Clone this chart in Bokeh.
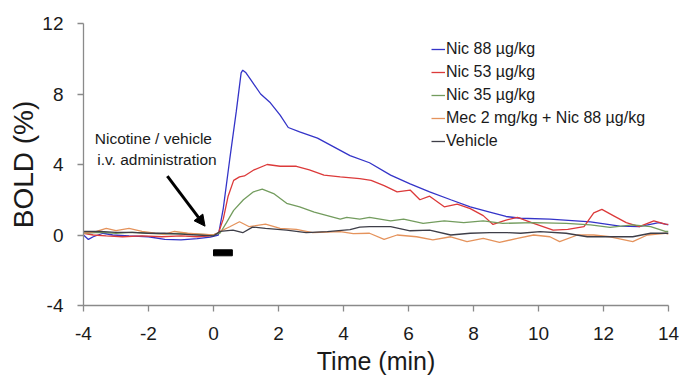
from bokeh.plotting import figure
from bokeh.models import Range1d, FixedTicker, Legend, LegendItem, Label, Arrow, NormalHead
from bokeh.embed import file_html
from bokeh.resources import INLINE

# ---- data ----
t_nic88 = [-4.0, -3.85, -3.7, -3.4, -3.1, -2.6, -2.0, -1.5, -1.0, -0.5, -0.1, 0.15, 0.3, 0.5, 0.7, 0.85, 0.9,
           1.0, 1.15, 1.45, 1.75, 2.05, 2.3, 2.65, 3.2, 3.7, 4.2, 4.8, 5.45, 6.05, 6.65, 7.3, 7.9, 8.5, 9.0,
           9.45, 10.35, 11.6, 12.5, 13.1, 13.7, 14.0]
v_nic88 = [0.0, -0.25, -0.1, 0.1, 0.0, -0.05, -0.1, -0.25, -0.28, -0.2, -0.12, 0.0, 1.5, 4.3, 7.0, 9.2, 9.35,
           9.2, 8.8, 8.0, 7.5, 6.8, 6.1, 5.85, 5.5, 5.0, 4.5, 4.1, 3.4, 2.9, 2.45, 2.0, 1.6, 1.3, 1.05,
           0.95, 0.9, 0.75, 0.5, 0.47, 0.7, 0.57]

t_nic53 = [-4.0, -3.7, -3.3, -2.8, -2.2, -1.6, -1.0, -0.5, -0.1, 0.15, 0.3, 0.45, 0.62, 0.8, 0.95, 1.25, 1.65,
           2.05, 2.55, 2.95, 3.4, 3.9, 4.5, 4.85, 5.25, 5.65, 6.05, 6.35, 6.65, 7.1, 7.5, 7.9, 8.3, 8.6,
           9.0, 9.35, 9.85, 10.45, 10.9, 11.4, 11.7, 11.95, 12.3, 12.7, 13.1, 13.55, 13.9, 14.0]
v_nic53 = [0.1, 0.0, -0.05, -0.1, -0.05, -0.1, -0.05, -0.1, -0.05, 0.1, 0.9, 2.2, 3.1, 3.3, 3.35, 3.7, 4.0,
           3.9, 3.9, 3.7, 3.4, 3.3, 3.2, 3.1, 2.8, 2.45, 2.55, 2.0, 2.2, 1.6, 1.75, 1.5, 1.1, 0.6,
           0.85, 1.0, 0.66, 0.28, 0.32, 0.47, 1.25, 1.45, 1.1, 0.7, 0.47, 0.8, 0.62, 0.6]

t_nic35 = [-4.0, -3.5, -3.0, -2.5, -2.0, -1.5, -1.0, -0.5, 0.0, 0.2, 0.4, 0.62, 0.92, 1.23, 1.5, 1.85, 2.25,
           2.65, 3.1, 3.5, 3.9, 4.1, 4.5, 4.8, 5.45, 5.85, 6.45, 7.1, 7.7, 8.3, 8.9, 9.85, 10.85, 11.6,
           12.2, 12.9, 13.45, 13.9, 14.0]
v_nic35 = [0.1, 0.15, 0.1, 0.15, 0.1, 0.05, 0.1, 0.05, 0.0, 0.1, 0.7, 1.4, 2.0, 2.45, 2.6, 2.35, 1.8,
           1.6, 1.3, 1.1, 0.9, 1.0, 0.9, 1.0, 0.8, 0.9, 0.66, 0.8, 0.7, 0.8, 0.66, 0.7, 0.66, 0.57,
           0.43, 0.57, 0.47, 0.2, 0.2]

t_mec = [-4.0, -3.6, -3.3, -3.0, -2.6, -2.2, -1.8, -1.5, -1.2, -0.8, -0.4, 0.0, 0.2, 0.5, 0.8, 1.1, 1.6, 2.05,
         2.55, 3.05, 3.5, 3.9, 4.3, 4.8, 5.25, 5.65, 6.25, 6.75, 7.3, 7.8, 8.3, 8.8, 9.35, 9.85, 10.35,
         10.65, 11.2, 11.7, 12.2, 12.9, 13.35, 13.9, 14.0]
v_mec = [0.1, 0.2, 0.38, 0.25, 0.38, 0.2, 0.1, 0.05, 0.2, 0.1, 0.05, 0.0, 0.2, 0.47, 0.75, 0.47, 0.62, 0.38,
         0.32, 0.13, 0.17, 0.19, 0.08, 0.1, -0.25, 0.0, -0.1, -0.28, -0.1, -0.38, -0.19, -0.42, -0.19, 0.0, -0.1,
         -0.38, 0.0, 0.0, -0.1, -0.38, 0.0, 0.1, 0.05]

t_veh = [-4.0, -3.5, -3.0, -2.5, -2.0, -1.5, -1.0, -0.5, 0.0, 0.2, 0.6, 0.9, 1.2, 1.6, 2.25, 2.85, 3.5, 4.2,
         4.5, 4.8, 5.45, 6.05, 6.65, 7.3, 7.9, 8.5, 9.05, 9.45, 10.05, 10.85, 11.5, 12.2, 12.9, 13.45, 13.9, 14.0]
v_veh = [0.2, 0.2, 0.15, 0.15, 0.1, 0.1, 0.05, 0.0, -0.05, 0.2, 0.28, 0.13, 0.45, 0.38, 0.28, 0.13, 0.19, 0.3,
         0.45, 0.47, 0.47, 0.24, 0.28, 0.0, 0.1, 0.13, 0.13, 0.1, 0.19, 0.1, -0.1, -0.1, -0.1, 0.1, 0.1, 0.1]

series_labels = ["Nic 88 µg/kg", "Nic 53 µg/kg", "Nic 35 µg/kg", "Mec 2 mg/kg + Nic 88 µg/kg", "Vehicle"]
x_ticks = [-4, -2, 0, 2, 4, 6, 8, 10, 12, 14]
y_ticks = [-4, 0, 4, 8, 12]

# injection period bar
inj_start = [0.0]
inj_end = [0.58]
inj_bottom = [-1.18]
inj_top = [-0.84]

FONT = "Liberation Sans"

p = figure(width=692, height=379, frame_width=585, frame_height=282, output_backend="svg", toolbar_location=None,
           x_range=Range1d(-4, 14), y_range=Range1d(-4, 12),
           min_border_left=83, min_border_right=24, min_border_top=23, min_border_bottom=74)
p.outline_line_color = None
p.xgrid.grid_line_color = None
p.ygrid.grid_line_color = None
p.background_fill_color = "white"
p.border_fill_color = "white"

colors = ["#3434c8", "#dc3a3a", "#739c5e", "#e5935c", "#3e3e48"]
ts = [t_nic88, t_nic53, t_nic35, t_mec, t_veh]
vs = [v_nic88, v_nic53, v_nic35, v_mec, v_veh]
renderers = []
for t, v, c in zip(ts, vs, colors):
    r = p.line(t, v, line_color=c, line_width=1.3)
    renderers.append(r)

p.quad(left=inj_start, right=inj_end, bottom=inj_bottom, top=inj_top, fill_color="black", line_color="black")

for ax in (p.xaxis[0], p.yaxis[0]):
    ax.axis_line_color = "#8a8a8a"
    ax.axis_line_width = 1.3
    ax.major_tick_line_color = "#8a8a8a"
    ax.major_tick_line_width = 1.3
    ax.major_tick_in = 0
    ax.major_tick_out = 6
    ax.minor_tick_line_color = None
    ax.major_label_text_font = FONT
    ax.major_label_text_font_size = "19px"
    ax.major_label_text_color = "#1a1a1a"
    ax.axis_label_text_font = FONT
    ax.axis_label_text_font_style = "normal"
    ax.axis_label_text_color = "#1a1a1a"

p.xaxis.ticker = FixedTicker(ticks=x_ticks)
p.yaxis.ticker = FixedTicker(ticks=y_ticks)
p.xaxis.major_label_overrides = {v: str(v) for v in x_ticks}
p.yaxis.major_label_overrides = {v: str(v) for v in y_ticks}
p.xaxis.major_label_standoff = 15
p.yaxis.major_label_standoff = 14
p.xaxis.axis_label = "Time (min)"
p.xaxis.axis_label_text_font_size = "25px"
p.xaxis.axis_label_standoff = 4
p.yaxis.axis_label = "BOLD (%)"
p.yaxis.axis_label_text_font_size = "28px"
p.yaxis.axis_label_standoff = 0

legend = Legend(items=[LegendItem(label=l, renderers=[r]) for l, r in zip(series_labels, renderers)],
                location=(348, 155), padding=0, margin=0, spacing=5,
                glyph_width=14, glyph_height=18, label_height=18, label_standoff=1,
                label_text_font=FONT, label_text_font_size="16px", label_text_color="#1a1a1a",
                border_line_color=None, background_fill_alpha=0)
p.add_layout(legend)

p.add_layout(Label(x=-1.85, y=5.48, text="Nicotine / vehicle", text_align="center", text_baseline="middle",
                   text_font=FONT, text_font_size="15.5px", text_color="#1a1a1a"))
p.add_layout(Label(x=-1.74, y=4.29, text="i.v. administration", text_align="center", text_baseline="middle",
                   text_font=FONT, text_font_size="15.5px", text_color="#1a1a1a"))
p.add_layout(Arrow(x_start=-1.42, y_start=3.34, x_end=-0.26, y_end=0.5, line_width=3, line_color="black",
                   end=NormalHead(size=11, fill_color="black", line_color="black")))

open("out.html", "w").write(file_html(p, INLINE))
